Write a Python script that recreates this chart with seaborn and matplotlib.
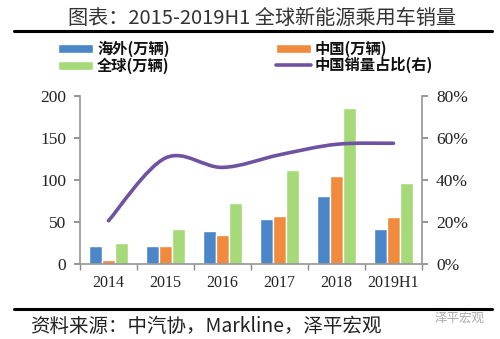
import matplotlib
matplotlib.use("Agg")
import matplotlib.pyplot as plt
import seaborn as sns
import pandas as pd
import numpy as np
from matplotlib.path import Path
from matplotlib.patches import PathPatch, Patch
from matplotlib.lines import Line2D

categories = ["2014", "2015", "2016", "2017", "2018", "2019H1"]
overseas = [21, 21, 39, 54, 81, 42]
china = [5, 21, 34, 57, 105, 56]
world = [25, 42, 73, 112, 186, 97]
china_share = [20.6, 50.5, 46.0, 52.0, 57.0, 57.5]
series_names = ["海外(万辆)", "中国(万辆)", "全球(万辆)"]
line_name = "中国销量占比(右)"

sns.set_theme(style="white")
plt.rcParams['font.family'] = ['Noto Sans CJK SC', 'DejaVu Sans']

colors = ["#4A86C8", "#F08A3C", "#A6DA78"]
purple = "#6F52A2"

df = pd.DataFrame({
    "cat": categories * 3,
    "val": overseas + china + world,
    "series": sum([[n] * len(categories) for n in series_names], []),
})

fig = plt.figure(figsize=(5.0, 3.39), dpi=100)
ax = fig.add_axes([80 / 500, 1 - 264 / 339, (422 - 80) / 500, (264 - 96) / 339])
sns.barplot(data=df, x="cat", y="val", hue="series", palette=colors,
            width=0.70, gap=0.04, ax=ax, legend=False, saturation=1)

ax.set_ylim(0, 200)
ax.set_xlim(-0.5, len(categories) - 0.5)
ax.set_yticks([0, 50, 100, 150, 200])
ax.set_xlabel("")
ax.set_ylabel("")
serif = ['Liberation Serif', 'DejaVu Serif']
for lab in ax.get_yticklabels():
    lab.set_fontfamily(serif)
ax.set_xticks(range(len(categories)))
ax.set_xticklabels(categories, fontfamily=serif, fontsize=11.5, color="#222222")
ax.tick_params(axis="y", labelsize=12.5, labelcolor="#222222", length=4,
               color="#888888", left=True, direction="out", pad=6)
ax.tick_params(axis="x", length=0, pad=8)
ax.set_xticks(np.arange(-0.5, len(categories), 1.0), minor=True)
ax.tick_params(axis="x", which="minor", length=4, color="#888888", bottom=True, direction="out")
for s in ["top", "right"]:
    ax.spines[s].set_visible(False)
ax.spines["left"].set_color("#999999")
ax.spines["bottom"].set_color("#999999")
ax.grid(False)

ax2 = ax.twinx()
ax2.set_ylim(0, 80)
ax2.set_yticks([0, 20, 40, 60, 80])
ax2.set_yticklabels([f"{v}%" for v in [0, 20, 40, 60, 80]], fontfamily=serif)
ax2.tick_params(axis="y", labelsize=12.5, labelcolor="#222222", length=4,
                color="#888888", right=True, direction="out", pad=6)
for s in ["top", "left", "bottom"]:
    ax2.spines[s].set_visible(False)
ax2.spines["right"].set_color("#999999")
ax2.grid(False)

# smooth line (Catmull-Rom rendered as cubic Bezier segments)
xs = np.arange(len(categories), dtype=float)
ys = np.array(china_share, dtype=float)
verts = [(xs[0], ys[0])]
codes = [Path.MOVETO]
n = len(xs)
for i in range(n - 1):
    p0 = (xs[i - 1], ys[i - 1]) if i > 0 else (xs[i], ys[i])
    p1 = (xs[i], ys[i])
    p2 = (xs[i + 1], ys[i + 1])
    p3 = (xs[i + 2], ys[i + 2]) if i + 2 < n else (xs[i + 1], ys[i + 1])
    c1 = (p1[0] + (p2[0] - p0[0]) / 6, p1[1] + (p2[1] - p0[1]) / 6)
    c2 = (p2[0] - (p3[0] - p1[0]) / 6, p2[1] - (p3[1] - p1[1]) / 6)
    verts += [c1, c2, p2]
    codes += [Path.CURVE4] * 3
ax2.add_patch(PathPatch(Path(verts, codes), facecolor="none", edgecolor=purple,
                        lw=2.6, capstyle="round", zorder=5))

# title and rules
fig.text(0.525, 1 - 18 / 339, "图表：2015-2019H1 全球新能源乘用车销量", ha="center", va="center",
         fontsize=14.5, color="#333333")
fig.add_artist(Line2D([14 / 500, 492 / 500], [1 - 31 / 339] * 2, color="black", lw=2.2))
fig.add_artist(Line2D([14 / 500, 492 / 500], [1 - 309 / 339] * 2, color="black", lw=2.2))

# legends: two columns placed separately
leg_kw = dict(loc="upper left", frameon=False, handlelength=2.3, handleheight=0.5,
              labelspacing=0.0, handletextpad=0.25, borderaxespad=0, borderpad=0,
              prop={"weight": "bold", "size": 11, "family": ['Noto Sans CJK SC', 'DejaVu Sans']})
leg1 = fig.legend([Patch(facecolor=colors[0]), Patch(facecolor=colors[2])],
                  [series_names[0], series_names[2]],
                  bbox_to_anchor=(58 / 500, 1 - 41 / 339), **leg_kw)
leg2 = fig.legend([Patch(facecolor=colors[1]), Line2D([0], [0], color=purple, lw=2.6)],
                  [series_names[1], line_name],
                  bbox_to_anchor=(276 / 500, 1 - 41 / 339), **leg_kw)
for leg in (leg1, leg2):
    for t in leg.get_texts():
        t.set_color("#111111")

# source
fig.text(30 / 500, 1 - 326 / 339, "资料来源：中汽协，Markline，泽平宏观", ha="left", va="center",
         fontsize=14, style="italic", color="#222222")
fig.text(485 / 500, 1 - 318 / 339, "泽平宏观", ha="right", va="center",
         fontsize=9, color="#AAAAAA")

fig.savefig("out.png", dpi=100)
